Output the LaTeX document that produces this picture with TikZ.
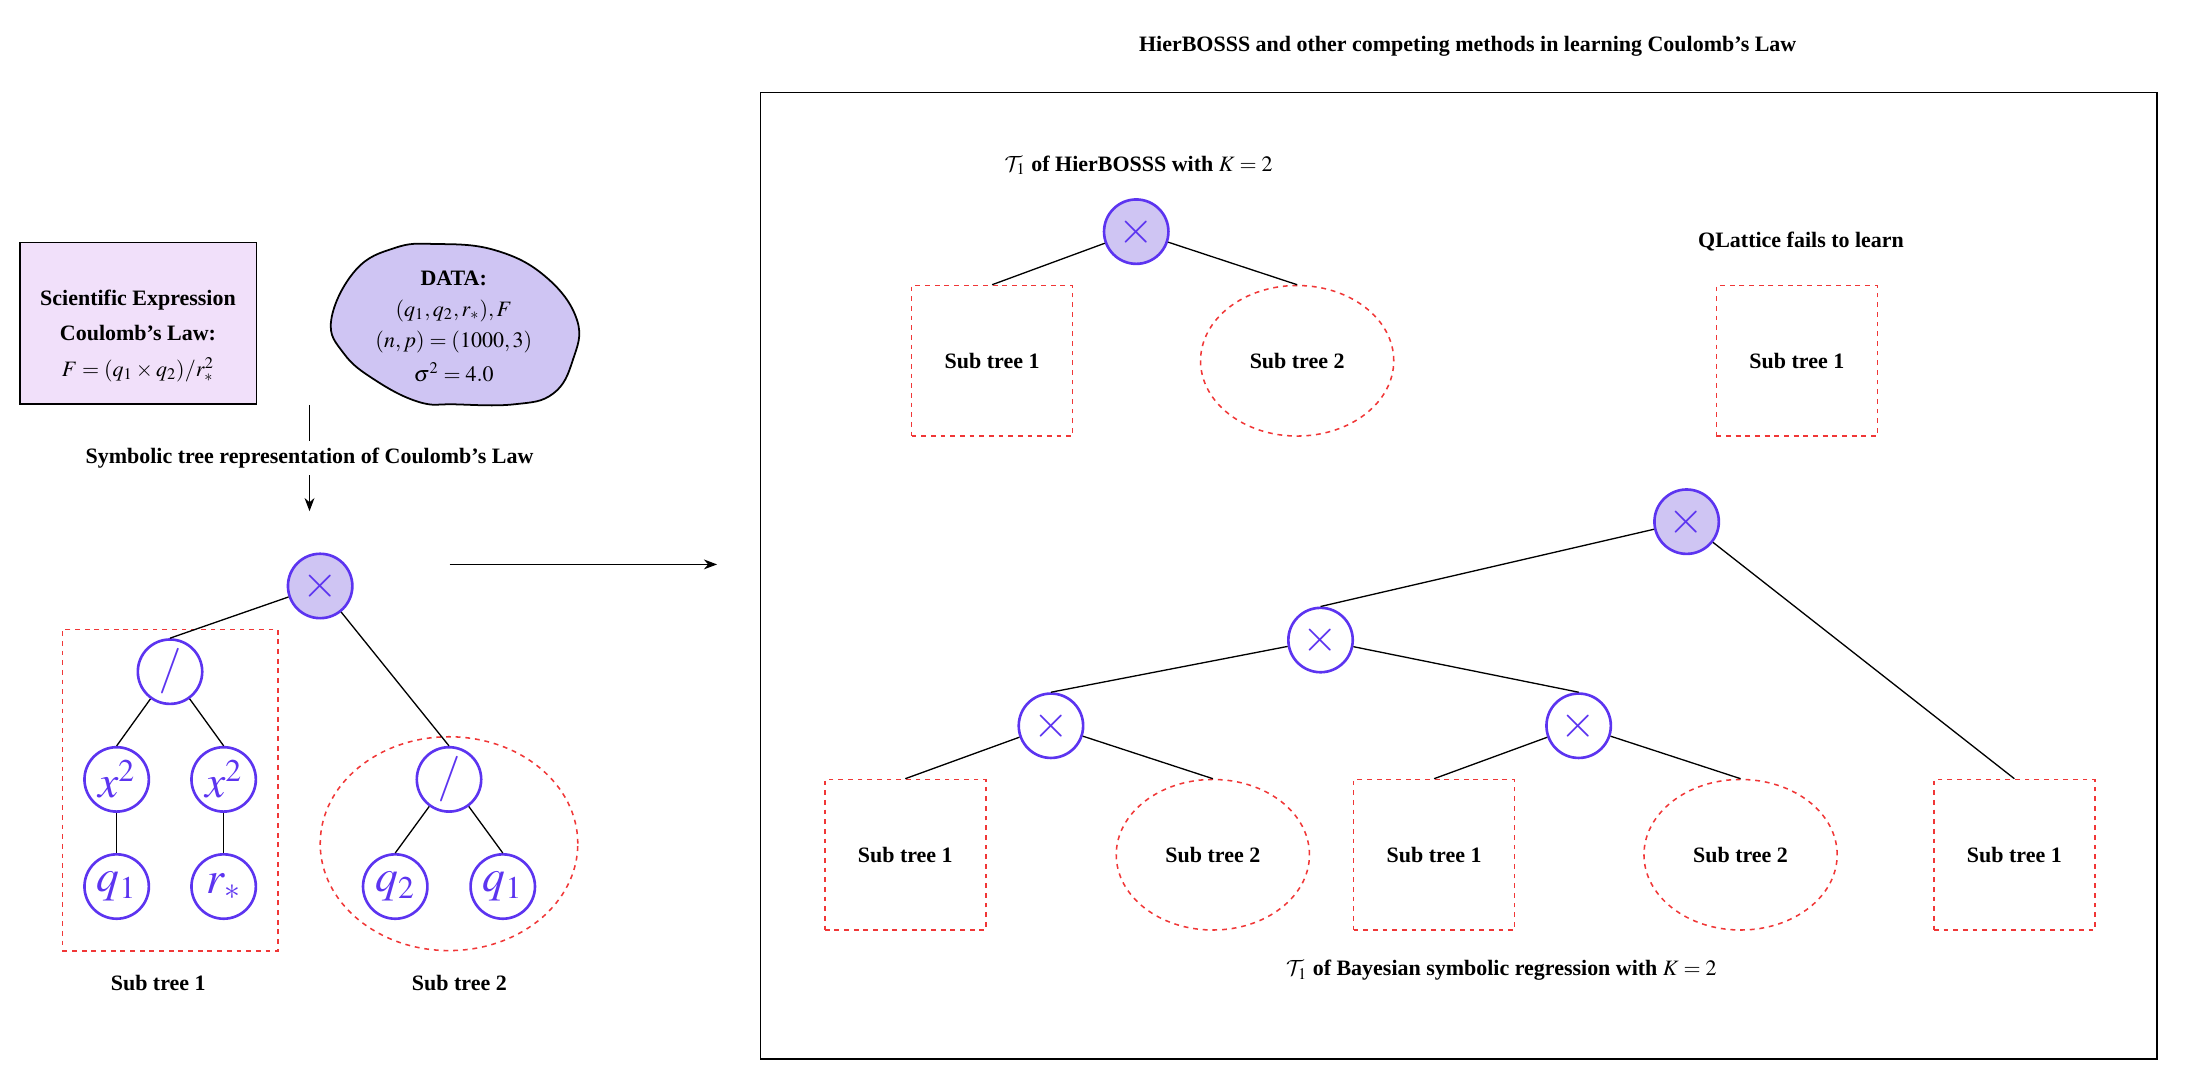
\documentclass[tikz,border=0pt]{standalone}
\usepackage{amsmath}
\usepackage{mathptmx}
\DeclareMathAlphabet{\mathcal}{OMS}{cmsy}{m}{n}
\usepackage[no-math]{fontspec}
\setmainfont{Liberation Serif}
\usetikzlibrary{shapes.geometric,arrows.meta}
\definecolor{pur}{RGB}{92,52,240}
\definecolor{lav}{RGB}{207,197,243}
\definecolor{boxfill}{RGB}{241,224,250}
\definecolor{dred}{RGB}{240,55,55}
\begin{document}
\begin{tikzpicture}[x=0.0224cm,y=-0.0224cm,
  op/.style={circle, draw=pur, line width=1.2pt, minimum size=1.03cm, inner sep=0pt, text=pur, font=\huge},
  opf/.style={op, fill=lav},
  reddash/.style={draw=dred, line width=0.7pt, dash pattern=on 2.2pt off 2.2pt},
  sqbox/.style={rectangle, reddash, minimum width=2.576cm, minimum height=2.408cm, font=\bfseries},
  elbox/.style={ellipse, reddash, minimum width=3.09cm, minimum height=2.408cm, inner sep=0pt, font=\bfseries},
  edge/.style={draw=black, line width=0.6pt},
  arr/.style={draw=black, line width=0.6pt, -{Stealth[length=6pt,width=4.5pt]}},
  lbl/.style={font=\bfseries, inner sep=1pt}
]
\useasboundingbox (0,0) rectangle (1568,778);

% ---------- left part ----------
\node[draw=black, fill=boxfill, line width=0.8pt, minimum width=3.786cm, minimum height=2.59cm, align=center, font=\bfseries] (exprbox) at (98.55,230.9)
  {\rule{0pt}{0.65cm}Scientific Expression\\[4pt]Coulomb's Law:\\[4pt]\mdseries $F=(q_1\times q_2)/r_*^2$};

\draw[fill=lav, line width=0.8pt] plot[smooth cycle, tension=0.7] coordinates {
 (236.5,228.5) (245.5,252.4) (268,271.5) (299,287) (324.6,288.7) (367,288.7)
 (395,281) (409,257.1) (412,228.5) (389.5,197.5) (353,178.5) (310.5,174.2)
 (282,177) (254,192.8)};
\node[align=center] (datatext) at (324,233) {\textbf{DATA:}\\[2pt]$(q_1,q_2,r_*),F$\\[2pt]$(n,p)=(1000,3)$\\[3.5pt]$\sigma^2=4.0$};

\coordinate (vtop) at (221,289);
\coordinate (vbot) at (221,365);
\draw[arr] (vtop) -- node[fill=white, font=\bfseries] (symlbl) {Symbolic tree representation of Coulomb's Law} (vbot);

% grouping shapes
\node[rectangle, reddash, minimum width=3.445cm, minimum height=5.143cm] (st1group) at (121.5,564.2) {};
\node[ellipse, reddash, minimum width=4.12cm, minimum height=3.42cm, inner sep=0pt] (st2group) at (320.6,602.4) {};

% left tree
\node[opf] (lroot) at (228.6,418.4) {$\times$};
\node[op] (ls1) at (121.4,479.6) {$/$};
\node[op] (lx1) at (83.3,556.5) {$x^2$};
\node[op] (lx2) at (159.7,556.5) {$x^2$};
\node[op] (lq1) at (83.3,633) {$q_1$};
\node[op] (lr) at (159.7,633) {$r_*$};
\node[op] (ls2) at (320.6,556.5) {$/$};
\node[op] (lq2) at (282.2,633) {$q_2$};
\node[op] (lq1b) at (359,633) {$q_1$};

\draw[edge] (lroot) -- (ls1.north);
\draw[edge] (lroot) -- (ls2.north);
\draw[edge] (ls1) -- (lx1.north);
\draw[edge] (ls1) -- (lx2.north);
\draw[edge] (lx1) -- (lq1);
\draw[edge] (lx2) -- (lr);
\draw[edge] (ls2) -- (lq2.north);
\draw[edge] (ls2) -- (lq1b.north);

\node[lbl] (st1lbl) at (113,702) {Sub tree 1};
\node[lbl] (st2lbl) at (328,702) {Sub tree 2};

\coordinate (hstart) at (321,403);
\coordinate (hend) at (512,403);
\draw[arr] (hstart) -- (hend);

% ---------- right part ----------
\node[lbl] (title) at (1048,33) {HierBOSSS and other competing methods in learning Coulomb's Law};
\node[draw=black, line width=0.8pt, minimum width=22.33cm, minimum height=15.456cm] (frame) at (1041.5,411) {};

\node[lbl] (hblbl) at (813,118) {$\mathcal{T}_1$ of HierBOSSS with $K=2$};
\node[opf] (hroot) at (811.3,165.4) {$\times$};
\node[sqbox] (hsq) at (708.4,257.6) {Sub tree 1};
\node[elbox] (hel) at (926.2,257.6) {Sub tree 2};
\draw[edge] (hroot) -- (hsq.north);
\draw[edge] (hroot) -- (hel.north);

\node[lbl] (qllbl) at (1286,172.6) {QLattice fails to learn};
\node[sqbox] (qsq) at (1283,257.6) {Sub tree 1};

\node[opf] (broot) at (1204.3,372.5) {$\times$};
\node[op] (bmid) at (942.9,457) {$\times$};
\node[op] (bl) at (750.4,518.2) {$\times$};
\node[op] (br) at (1127.2,518.2) {$\times$};
\node[sqbox] (bsq1) at (646.4,610.3) {Sub tree 1};
\node[elbox] (bel1) at (866,610.3) {Sub tree 2};
\node[sqbox] (bsq2) at (1024,610.3) {Sub tree 1};
\node[elbox] (bel2) at (1242.8,610.3) {Sub tree 2};
\node[sqbox] (bsq3) at (1438.3,610.3) {Sub tree 1};

\draw[edge] (broot) -- (bmid.north);
\draw[edge] (broot) -- (bsq3.north);
\draw[edge] (bmid) -- (bl.north);
\draw[edge] (bmid) -- (br.north);
\draw[edge] (bl) -- (bsq1.north);
\draw[edge] (bl) -- (bel1.north);
\draw[edge] (br) -- (bsq2.north);
\draw[edge] (br) -- (bel2.north);

\node[lbl] (bslbl) at (1072,693) {$\mathcal{T}_1$ of Bayesian symbolic regression with $K=2$};
\end{tikzpicture}
\end{document}
